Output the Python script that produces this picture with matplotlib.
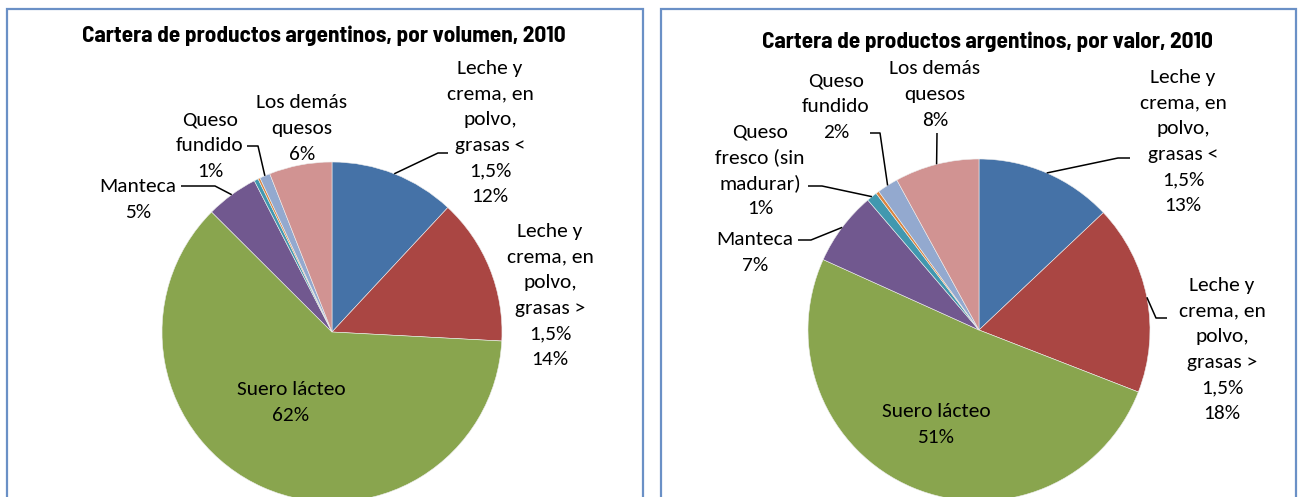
import math
import matplotlib
matplotlib.use("Agg")
import matplotlib.pyplot as plt
from matplotlib import font_manager as fm
from matplotlib.patches import Rectangle

# ---------------- data ----------------
categories = ["Leche y crema, en polvo, grasas < 1,5%",
              "Leche y crema, en polvo, grasas > 1,5%",
              "Suero lácteo", "Manteca", "Queso fresco (sin madurar)",
              "Otros", "Queso fundido", "Los demás quesos"]
label_text = ["Leche y\ncrema, en\npolvo,\ngrasas <\n1,5%",
              "Leche y\ncrema, en\npolvo,\ngrasas >\n1,5%",
              "Suero lácteo", "Manteca", "Queso\nfresco (sin\nmadurar)",
              None, "Queso\nfundido", "Los demás\nquesos"]
volumen_values = [12, 14, 62, 5, 0.4, 0.2, 1, 6]
valor_values = [13, 18, 51, 7, 1, 0.3, 2, 8]
titles = ["Cartera de productos argentinos, por volumen, 2010",
          "Cartera de productos argentinos, por valor, 2010"]
colors = ["#4572A7", "#AA4643", "#89A54E", "#71588F",
          "#4198AF", "#DB843D", "#93A9CF", "#D19392"]

# ---------------- layout (pixels, y from top) ----------------
W, H = 1301, 497
frames = [(7, 9, 643), (661, 9, 1296)]
pie_geom = [((332, 332), 170), ((979, 330), 171)]
title_pos = [(324, 36), (987, 42)]
label_pos = [
    [(490, 131), (550, 294), (291, 401), (138, 198), None, None, (210, 144), (302, 127)],
    [(1183, 140), (1222, 348), (936, 423), (755, 251), (760, 169), None, (836, 105), (935, 93)],
]
leaders = [
    {0: [(448, 153), (438, 153)], 3: [(181, 186), (215, 186)], 6: [(247, 146), (258, 146)]},
    {0: [(1130, 158), (1118, 158)], 1: [(1167, 318), (1156, 318)],
     3: [(798, 240), (811, 240)], 4: [(808, 186), (822, 186)],
     6: [(870, 133), (880, 133)], 7: [(937, 133)]},
]
show_label = [[True, True, True, True, False, False, True, True],
              [True, True, True, True, True, False, True, True]]
PITCH = 25.6


def has_bold(name):
    for f in fm.fontManager.ttflist:
        if f.name == name:
            wt = f.weight
            if isinstance(wt, str):
                if wt in ("bold", "semibold", "demibold", "heavy", "extra bold", "black"):
                    return True
            elif wt >= 600:
                return True
    return False


names = {f.name for f in fm.fontManager.ttflist}
label_family = next((f for f in ["Carlito", "Lato", "Open Sans"] if f in names), "DejaVu Sans")
title_family = next((f for f in ["Liberation Sans Narrow", "Arial Narrow", "Archivo Narrow",
                                 "Barlow Semi Condensed", "Roboto Condensed",
                                 "Encode Sans Semi Condensed", "Asap Condensed",
                                 "Liberation Sans"] if f in names and has_bold(f)),
                    "DejaVu Sans")

fig = plt.figure(figsize=(W / 100, H / 100), dpi=100)
renderer = fig.canvas.get_renderer()


def measure(s, fp):
    w, h, d = renderer.get_text_width_height_descent(s, fp, ismath=False)
    return w, h, d


fp10 = fm.FontProperties(family=label_family, size=10)
label_size = 10 * 109 / measure("Suero lácteo", fp10)[0]
size_px = label_size * 100 / 72

fpt = fm.FontProperties(family=title_family, weight="bold", size=10)
title_size = min(17.0, 10 * 485 / measure(titles[0], fpt)[0])

ax = fig.add_axes([0, 0, 1, 1])
ax.set_xlim(0, W)
ax.set_ylim(0, H)
ax.axis("off")

for k, (vals, title) in enumerate(zip([volumen_values, valor_values], titles)):
    x0, top, x1 = frames[k]
    ax.add_patch(Rectangle((x0, -20), x1 - x0, H - top + 20, fill=False,
                           edgecolor="#6A90C6", linewidth=1.6, zorder=0))
    (cx, cy), r = pie_geom[k]
    wedges, _ = ax.pie(vals, colors=colors, startangle=90, counterclock=False,
                       center=(cx, H - cy), radius=r, frame=True,
                       wedgeprops=dict(linewidth=0.4, edgecolor="#eeeeee"))
    tx, ty = title_pos[k]
    ax.text(tx, H - ty, title, ha="center", va="center", fontsize=title_size,
            fontweight="bold", family=title_family, color="#000000")
    for i, w in enumerate(wedges):
        if not show_label[k][i]:
            continue
        px, py = label_pos[k][i]
        lines = f"{label_text[i]}\n{round(vals[i])}%".split("\n")
        n = len(lines)
        for j, line in enumerate(lines):
            by = py + (j - (n - 1) / 2) * PITCH + 0.33 * size_px
            ax.text(px, H - by, line, ha="center", va="baseline",
                    fontsize=label_size, family=label_family, color="#000000")
        if i in leaders[k]:
            mid = math.radians((w.theta1 + w.theta2) / 2)
            ex, ey = cx + r * math.cos(mid), (H - cy) + r * math.sin(mid)
            pts = [(a, H - b) for a, b in leaders[k][i]] + [(ex, ey)]
            ax.plot([p[0] for p in pts], [p[1] for p in pts], color="black",
                    linewidth=1.1, solid_capstyle="butt", zorder=5)

ax.set_xlim(0, W)
ax.set_ylim(0, H)
ax.set_aspect("auto")
fig.savefig("out.png", dpi=100)
